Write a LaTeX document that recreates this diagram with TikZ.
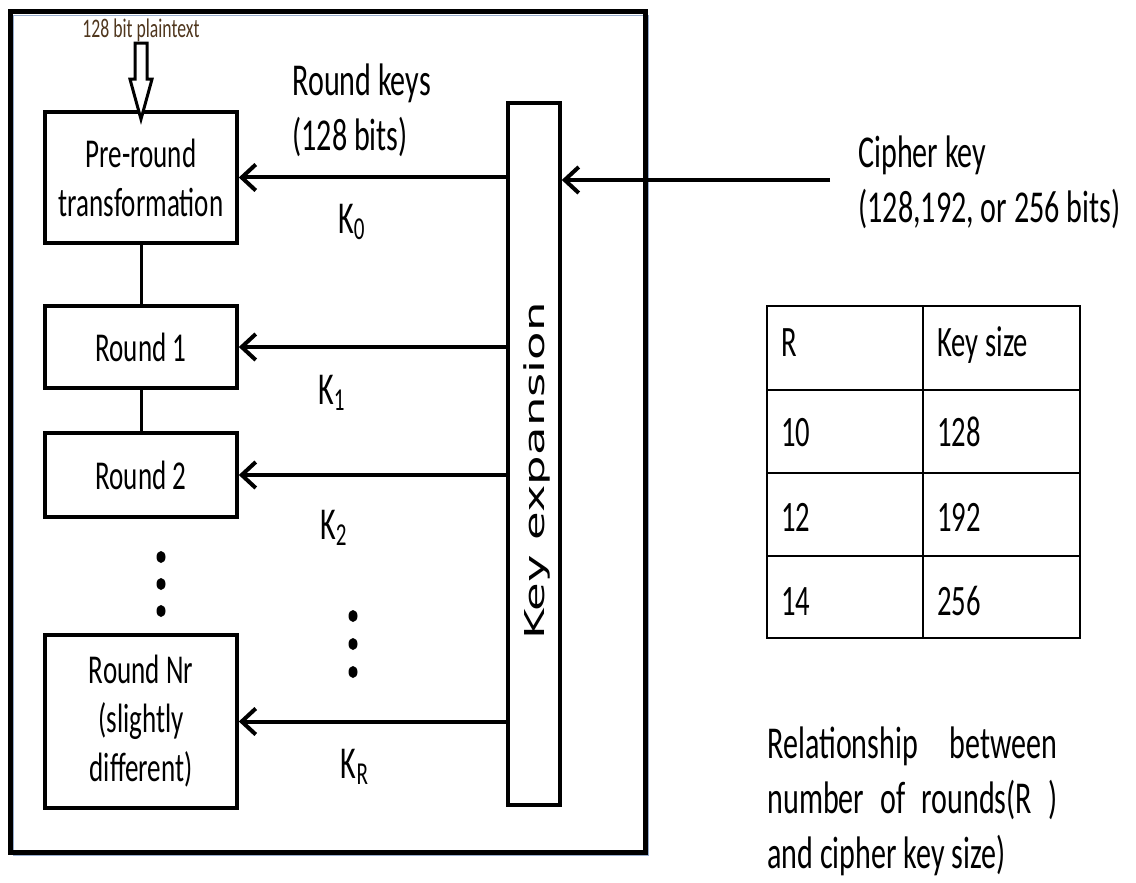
\documentclass[tikz,border=0pt]{standalone}
\usepackage{fontspec}
\setmainfont{Carlito}[FakeStretch=0.66]
\newfontfamily\keyfont{DejaVu Sans}[FakeStretch=1.7]
\usepackage{tikz}
\usetikzlibrary{arrows.meta}

\definecolor{framelight}{RGB}{150,172,205}
\definecolor{plainbrown}{RGB}{80,55,30}

\begin{document}
\begin{tikzpicture}[x=0.5pt, y=-0.5pt,
	box/.style={draw, line width=1.8pt, minimum width=96pt, align=center, inner sep=0pt, font=\fontsize{20.5pt}{24.5pt}\selectfont},
	lbl/.style={align=left, inner sep=0pt, font=\fontsize{22.8pt}{27.5pt}\selectfont},
	cell/.style={anchor=base west, inner sep=0pt, font=\fontsize{21.7pt}{26pt}\selectfont},
	keyarrow/.style={line width=2pt, -{Straight Barb[length=7pt, width=13pt, line width=2pt]}},
	grid/.style={line width=0.8pt}]
\path[use as bounding box, fill=white] (0,0) rectangle (1136,883);

% outer frame
\draw[framelight, line width=0.7pt] (13.5,15.5) rectangle (648.5,855.5);
\draw[line width=2.5pt] (10,12) rectangle (645,852);

% cipher rounds
\node[box, minimum height=65.5pt] (pre) at (141,177.5) {Pre-round\\transformation};
\node[box, minimum height=41pt] (rnd1) at (141,347) {Round 1};
\node[box, minimum height=42pt] (rnd2) at (141,475) {Round 2};
\node[box, minimum height=86.5pt] (rndn) at (141,721.5) {Round Nr\\(slightly\\different)};
\draw[line width=1.5pt] (pre) -- (rnd1);
\draw[line width=1.5pt] (rnd1) -- (rnd2);

% plaintext input
\node[inner sep=0pt, text=plainbrown, font=\fontsize{13.4pt}{16pt}\selectfont] (pt) at (141,30) {128 bit plaintext};
\draw[line width=1.5pt, fill=white] (pre.north) ++(0,9) -- ++(-11,-40) -- ++(5,0) -- ++(0,-36)
	-- ++(12,0) -- ++(0,36) -- ++(5,0) -- cycle;

% key schedule
\node[draw, line width=1.8pt, minimum width=26pt, minimum height=351pt, inner sep=0pt] (kx) at (534,454) {};
\node[rotate=90, inner sep=0pt, font={\keyfont\fontsize{13.7pt}{16pt}\selectfont}] (kxt) at (537,471) {Key expansion};
\foreach \n in {pre,rnd1,rnd2,rndn}
	\draw[keyarrow] (kx.west |- \n.east) -- (\n.east);
\coordinate (ck) at (830,180);
\draw[keyarrow] (ck) -- (kx.east |- ck);

\node[lbl, anchor=west] (rk) at (292,110) {Round keys\\(128 bits)};
\node[lbl] (k0) at (352,222) {K\textsubscript{0}};
\node[lbl] (k1) at (332,393) {K\textsubscript{1}};
\node[lbl] (k2) at (334,528) {K\textsubscript{2}};
\node[lbl] (kr) at (355,767) {K\textsubscript{R}};
\node[lbl, anchor=west] (ckl) at (858,182) {Cipher key\\(128,192, or 256 bits)};

\foreach \y in {557,584,611}
	\fill (161,\y) ellipse [x radius=2.25pt, y radius=3pt];
\foreach \y in {616,644,672}
	\fill (353,\y) ellipse [x radius=2.25pt, y radius=3pt];

% rounds vs key size
\draw[grid] (767,306) rectangle (1080,638);
\draw[grid] (923,306) -- (923,638);
\foreach \y in {390,473,556}
	\draw[grid] (767,\y) -- (1080,\y);
\foreach \a/\b/\y [count=\i] in {R/Key size/356, 10/128/446, 12/192/531, 14/256/615} {
	\node[cell] (tr\i) at (781,\y) {\a};
	\node[cell] (ts\i) at (937,\y) {\b};
}
\node[lbl, align=flush left, anchor=north west, text width=145pt] (cap) at (767,726)
	{Relationship\hfill between\\number\hfill of\hfill rounds(R\hfill)\\and cipher key size)};
\end{tikzpicture}
\end{document}
